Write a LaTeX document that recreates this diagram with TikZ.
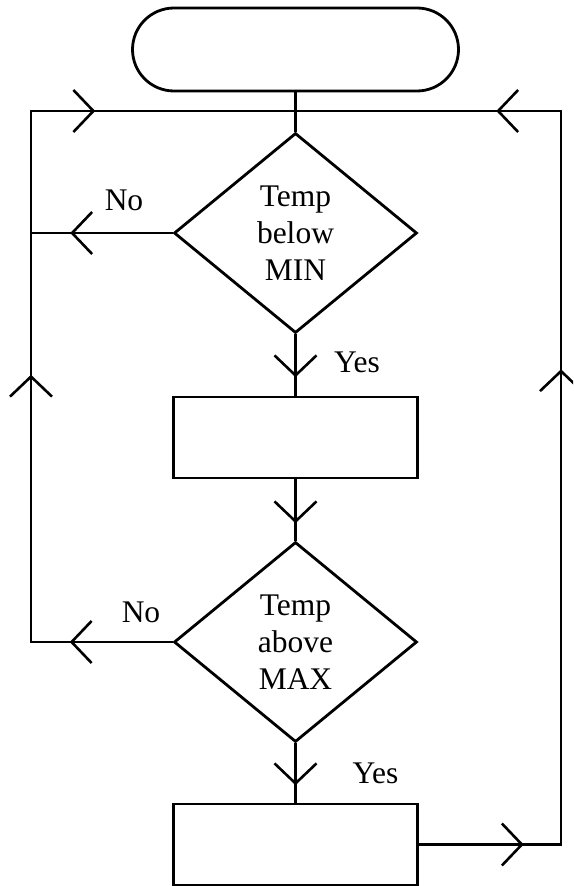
\documentclass[tikz,border=0pt]{standalone}
\usepackage{fontspec}
\setmainfont{Liberation Serif}
\usetikzlibrary{shapes.geometric,decorations.markings}
\begin{document}
\begin{tikzpicture}[x=1pt,y=-1pt,line width=2.8pt,
  every node/.style={font=\fontsize{31.5}{37}\selectfont},
  termbox/.style={draw, rectangle, rounded corners=41.5pt, minimum width=326pt, minimum height=83pt, inner sep=0pt},
  procbox/.style={draw, rectangle, minimum width=244pt, minimum height=81pt, inner sep=0pt},
  decbox/.style={draw, diamond, minimum width=243pt, minimum height=200pt, inner sep=0pt, align=center},
  lbl/.style={anchor=base, inner sep=0pt},
  chev/.style={postaction={decorate, decoration={markings, mark=at position #1 with {\draw[line width=2.6pt] (-20pt,21pt) -- (0pt,0pt) -- (-20pt,-21pt);}}}}]
\clip (0,0) rectangle (573,886);
\node[termbox] (term) at (295.5,49.5) {};
\node[decbox] (d1) at (295.5,233) {Temp\\below\\MIN};
\node[procbox] (r1) at (295.5,437.5) {};
\node[decbox] (d2) at (295.5,642) {Temp\\above\\MAX};
\node[procbox] (r2) at (295.5,844.5) {};
\coordinate (TL) at (31,111);
\coordinate (TR) at (561,111);
\coordinate (Tj) at (term.south |- TL);
\node[lbl] (no1) at (124,210) {No};
\node[lbl] (no2) at (141,622) {No};
\node[lbl] (yes1) at (357,372) {Yes};
\node[lbl] (yes2) at (375.5,783) {Yes};
\draw (term.south) -- (d1.north);
\draw[chev=100.5pt] (d1.west) -- (d1.west -| TL);
\draw[chev=101pt, chev=407pt, chev=735pt] (d2.west) -- (d2.west -| TL) -- (TL) -- (Tj);
\draw[chev=103pt, chev=615.5pt, chev=938.5pt] (r2.east) -- (r2.east -| TR) -- (TR) -- (Tj);
\draw[chev=41pt] (d1.south) -- (r1.north);
\draw[chev=42pt] (r1.south) -- (d2.north);
\draw[chev=40pt] (d2.south) -- (r2.north);
\end{tikzpicture}
\end{document}
